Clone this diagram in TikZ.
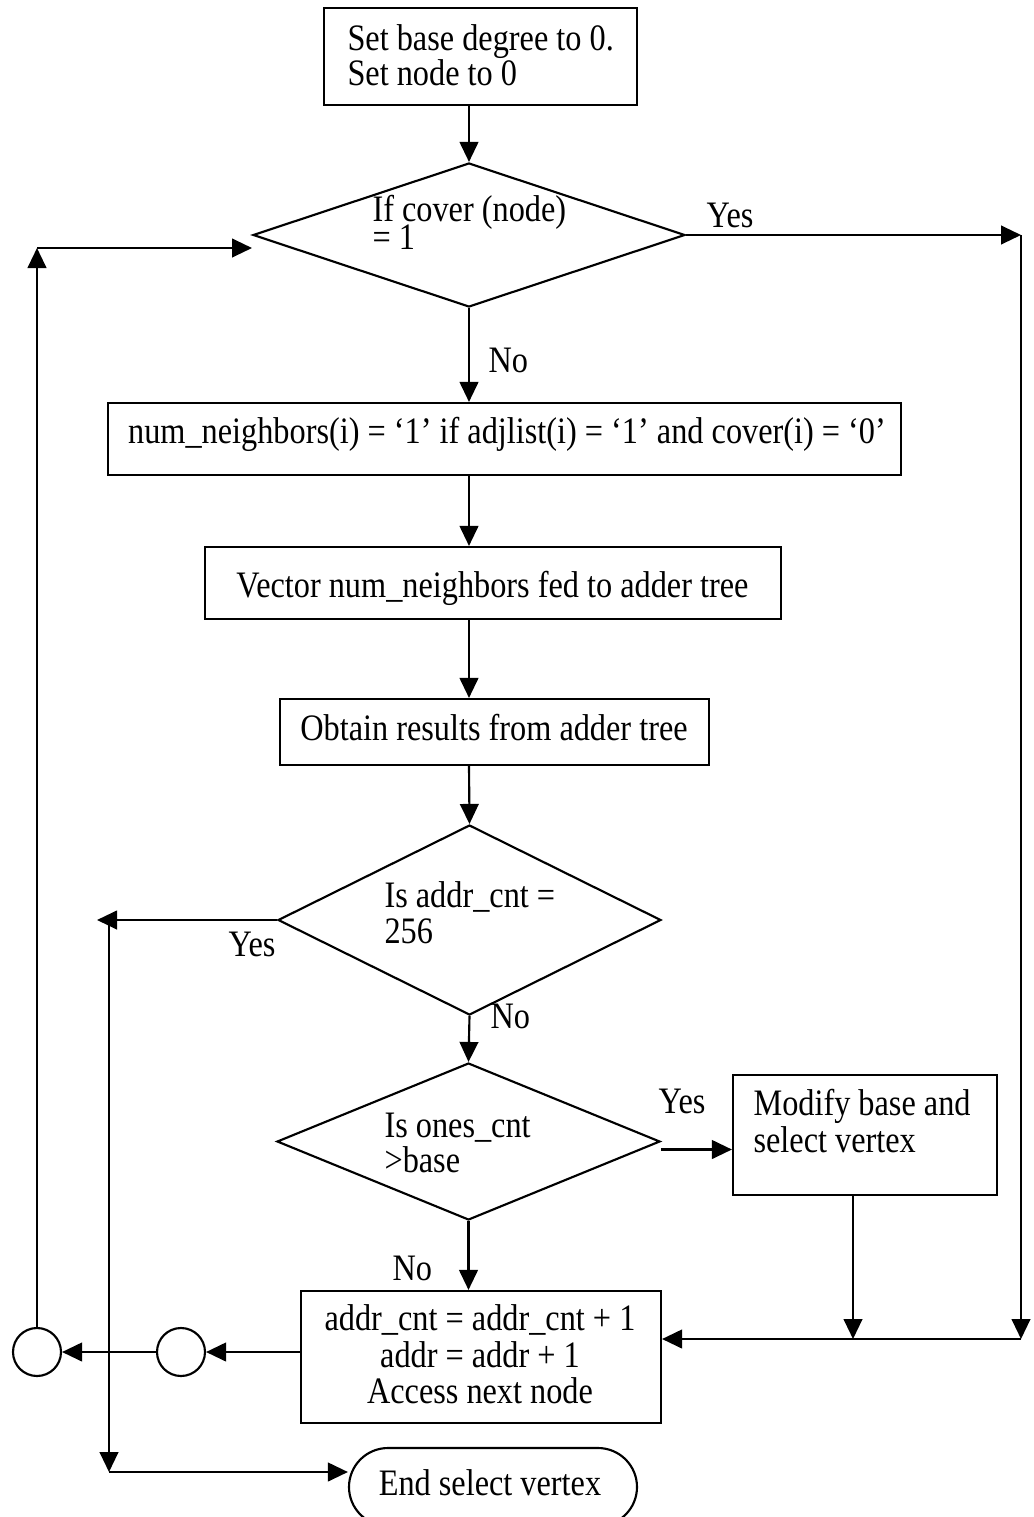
\documentclass[tikz,border=0pt]{standalone}
\usepackage{fontspec}
\setmainfont{Liberation Serif}[FakeStretch=0.865]
\usetikzlibrary{arrows.meta,shapes.geometric}
% lengths given in drawing units (1 unit = 0.375pt)
\newcommand{\pxl}[1]{#1*0.375pt}
\begin{document}
\begin{tikzpicture}[x=0.375pt,y=-0.375pt,
  every node/.style={font=\fontsize{14}{14}\selectfont},
  shapebox/.style={draw, line width=0.8pt, inner sep=0pt, rectangle},
  decision/.style={draw, line width=0.8pt, inner sep=0pt, diamond},
  joint/.style={draw, line width=0.8pt, circle, inner sep=0pt, minimum size=\pxl{48}},
  txt/.style={anchor=base west, inner sep=0pt},
  ctxt/.style={anchor=base, inner sep=0pt},
  flow/.style={line width=0.8pt, -{Triangle[length=7.5pt,width=7pt]}},
]
\useasboundingbox (0,0) rectangle (1034,1517);

% ---- shapes ----
\node[shapebox, minimum width=\pxl{313}, minimum height=\pxl{97}] (init) at (480.5,56.5) {};
\node[txt] (initA) at (347,50) {Set base degree to 0.};
\node[txt] (initB) at (347,85) {Set node to 0};

\node[decision, minimum width=\pxl{432}, minimum height=\pxl{144}] (cov) at (469,235) {};
\node[txt] (covA) at (372,221) {If cover (node)};
\node[txt] (covB) at (372,249) {= 1};

\node[shapebox, minimum width=\pxl{793}, minimum height=\pxl{72}] (nbr) at (504.5,439) {};
\node[ctxt] (nbrT) at (507,443) {num\_neighbors(i) = ‘1’ if adjlist(i) = ‘1’ and cover(i) = ‘0’};

\node[shapebox, minimum width=\pxl{576}, minimum height=\pxl{72}] (vec) at (493,583) {};
\node[ctxt] (vecT) at (492.5,597) {Vector num\_neighbors fed to adder tree};

\node[shapebox, minimum width=\pxl{429}, minimum height=\pxl{66}] (res) at (494.5,732) {};
\node[ctxt] (resT) at (494,740) {Obtain results from adder tree};

\node[decision, minimum width=\pxl{383}, minimum height=\pxl{190}] (cnt) at (469.5,920) {};
\node[txt] (cntA) at (384,907) {Is addr\_cnt =};
\node[txt] (cntB) at (384,943) {256};

\node[decision, minimum width=\pxl{383}, minimum height=\pxl{157}] (ones) at (468.5,1141.5) {};
\node[txt] (onesA) at (384,1137) {Is ones\_cnt};
\node[txt] (onesB) at (384,1172) {>base};

\node[shapebox, minimum width=\pxl{264}, minimum height=\pxl{120}] (mod) at (865,1135) {};
\node[txt] (modA) at (753,1115) {Modify base and};
\node[txt] (modB) at (753,1152) {select vertex};

\node[shapebox, minimum width=\pxl{360}, minimum height=\pxl{132}] (inc) at (481,1357) {};
\node[ctxt] (incA) at (480,1330) {addr\_cnt = addr\_cnt + 1};
\node[ctxt] (incB) at (480,1367) {addr = addr + 1};
\node[ctxt] (incC) at (480,1403) {Access next node};

\node[joint] (j2) at (181,1352) {};
\node[joint] (j1) at (37,1352) {};

\node[shapebox, rounded corners=\pxl{39}, minimum width=\pxl{288}, minimum height=\pxl{78}] (stop) at (493,1487) {};
\node[ctxt] (stopT) at (490,1495) {End select vertex};

% ---- branch labels ----
\node[txt] (yes1) at (706,227) {Yes};
\node[txt] (no1) at (488,372) {No};
\node[txt] (yes2) at (228,956) {Yes};
\node[txt] (no2) at (490,1028) {No};
\node[txt] (yes3) at (658,1113) {Yes};
\node[txt] (no3) at (392,1280) {No};

% ---- routing points ----
\coordinate (rt) at (1021,235);
\coordinate (rb) at (1021,1339);
\coordinate (lt) at (37,248);
\coordinate (ltTip) at (252,248);
\coordinate (lmTip) at (97,920);
\coordinate (lm) at (109,920);
\coordinate (lb) at (109,1472);
\coordinate (oy) at ([yshift=-3pt]ones.east);
\coordinate (md) at ([xshift=-4.5pt]mod.south);

% ---- main column ----
\draw[flow] (cov.north |- init.south) -- (cov.north);
\draw[flow] (cov.south) -- (cov.south |- nbr.north);
\draw[flow] (cov.south |- nbr.south) -- (cov.south |- vec.north);
\draw[flow] (cov.south |- vec.south) -- (cov.south |- res.north);
\draw[flow] (cov.south |- res.south) -- (cnt.north);
\draw[flow] (cnt.south) -- (ones.north);
\draw[flow] (ones.south) -- (ones.south |- inc.north);

% ---- right side ----
\draw[flow] (cov.east) -- (rt);
\draw[flow] (rt) -- (rb);
\draw[flow] (rb) -- (rb -| inc.east);
\draw[flow] (oy) -- (oy -| mod.west);
\draw[flow] (md) -- (md |- rb);

% ---- left side ----
\draw[flow] (cnt.west) -- (lmTip);
\draw[flow] (lm) -- (lb);
\draw[flow] (lb) -- (lb -| stop.west);
\draw[flow] (inc.west |- j2) -- (j2.east);
\draw[flow] (j2.west) -- (j1.east);
\draw[flow] (j1.north) -- (lt);
\draw[flow] (lt) -- (ltTip);
\end{tikzpicture}
\end{document}
